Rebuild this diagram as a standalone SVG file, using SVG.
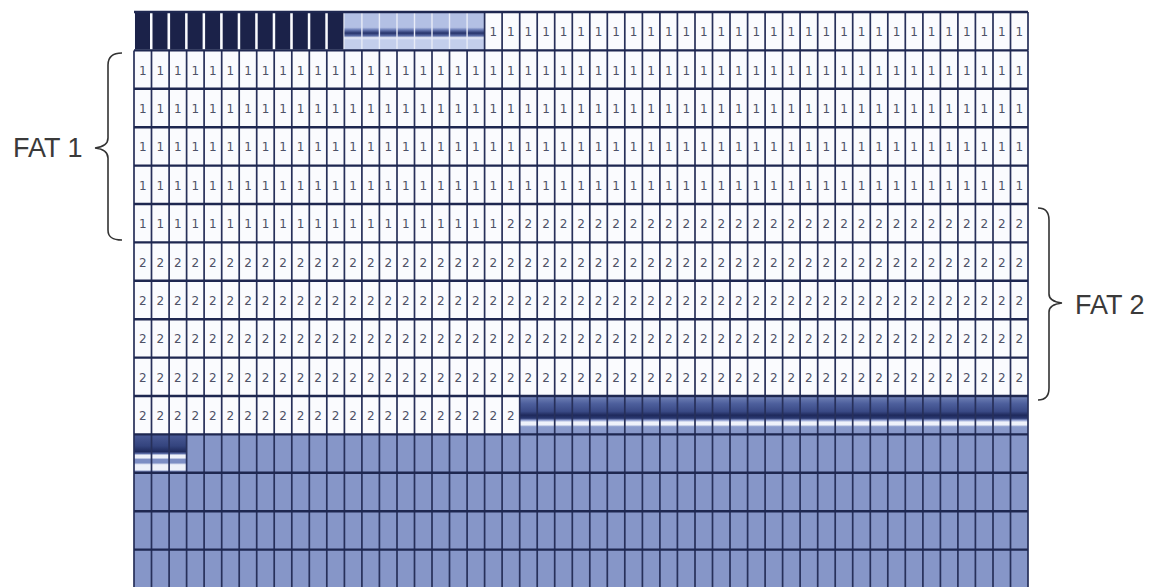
<svg xmlns="http://www.w3.org/2000/svg" width="1157" height="587" viewBox="0 0 1157 587">
<defs>
<style>
.cell{fill:#fafbfe}
.blue{fill:#8696c8}
.dark{fill:#1b2249}
.vl{stroke:#27305a;stroke-width:1.7;fill:none}
.hl{stroke:#1e2750;stroke-width:2.4;fill:none}
.dg{font-family:"DejaVu Sans",sans-serif;font-size:12px;fill:#4d5166;text-anchor:middle}
.brace{stroke:#333;stroke-width:1.6;fill:none}
.lbl{font-family:"Liberation Sans",Arial,sans-serif;font-size:27px;fill:#3a3a3a}
</style>
<linearGradient id="band0" x1="0" y1="0" x2="0" y2="1">
<stop offset="0" stop-color="#b3c0e4"/>
<stop offset="0.4" stop-color="#b3c0e4"/>
<stop offset="0.46" stop-color="#6f80b8"/>
<stop offset="0.55" stop-color="#26336a"/>
<stop offset="0.62" stop-color="#5d6fa8"/>
<stop offset="0.67" stop-color="#e6ebf7"/>
<stop offset="0.73" stop-color="#c3ceec"/>
<stop offset="1" stop-color="#c3ceec"/>
</linearGradient>
<linearGradient id="band10" x1="0" y1="0" x2="0" y2="1">
<stop offset="0" stop-color="#7f90c5"/>
<stop offset="0.08" stop-color="#6475ad"/>
<stop offset="0.2" stop-color="#4d5f9c"/>
<stop offset="0.4" stop-color="#3a4a86"/>
<stop offset="0.5" stop-color="#1f2a5c"/>
<stop offset="0.58" stop-color="#2a3870"/>
<stop offset="0.63" stop-color="#8e9dd0"/>
<stop offset="0.68" stop-color="#f0f3fb"/>
<stop offset="0.75" stop-color="#eef1fa"/>
<stop offset="0.8" stop-color="#8a9bcc"/>
<stop offset="1" stop-color="#8696c8"/>
</linearGradient>
<linearGradient id="band11" x1="0" y1="0" x2="0" y2="1">
<stop offset="0" stop-color="#4a5a96"/>
<stop offset="0.3" stop-color="#34447e"/>
<stop offset="0.45" stop-color="#1f2a5c"/>
<stop offset="0.5" stop-color="#5a6ba6"/>
<stop offset="0.54" stop-color="#eef1fa"/>
<stop offset="0.61" stop-color="#eef1fa"/>
<stop offset="0.65" stop-color="#7d8ec4"/>
<stop offset="0.74" stop-color="#7d8ec4"/>
<stop offset="0.79" stop-color="#eef1fa"/>
<stop offset="0.92" stop-color="#eef1fa"/>
<stop offset="0.96" stop-color="#8696c8"/>
</linearGradient>
</defs>
<rect width="1157" height="587" fill="#ffffff"/>
<g id="table">
<rect class="cell" x="134" y="12" width="894" height="422.4"/>
<rect class="blue" x="519.7" y="396" width="508.3" height="38.4"/>
<rect class="blue" x="134" y="434.4" width="894" height="152.6"/>
<rect x="519.7" y="396" width="508.3" height="38.4" fill="url(#band10)"/>
<rect x="134" y="434.4" width="52.6" height="38.4" fill="url(#band11)"/>
<g id="row0-used">
<rect class="dark" x="135" y="12" width="15" height="37.5"/>
<rect class="dark" x="152.5" y="12" width="15" height="37.5"/>
<rect class="dark" x="170.1" y="12" width="15" height="37.5"/>
<rect class="dark" x="187.6" y="12" width="15" height="37.5"/>
<rect class="dark" x="205.1" y="12" width="15" height="37.5"/>
<rect class="dark" x="222.7" y="12" width="15" height="37.5"/>
<rect class="dark" x="240.2" y="12" width="15" height="37.5"/>
<rect class="dark" x="257.7" y="12" width="15" height="37.5"/>
<rect class="dark" x="275.2" y="12" width="15" height="37.5"/>
<rect class="dark" x="292.8" y="12" width="15" height="37.5"/>
<rect class="dark" x="310.3" y="12" width="15" height="37.5"/>
<rect class="dark" x="327.8" y="12" width="15.6" height="37.5"/>
<rect x="344.4" y="12" width="140.2" height="38.4" fill="url(#band0)"/>
<path d="M361.9 13V49M379.4 13V49M397 13V49M414.5 13V49M432 13V49M449.5 13V49M467.1 13V49" stroke="#e8ecf7" stroke-width="1.4" fill="none"/>
</g>
<path class="vl" d="M484.6 12V50.4M502.1 12V50.4M519.7 12V50.4M537.2 12V50.4M554.7 12V50.4M572.3 12V50.4M589.8 12V50.4M607.3 12V50.4M624.8 12V50.4M642.4 12V50.4M659.9 12V50.4M677.4 12V50.4M695 12V50.4M712.5 12V50.4M730 12V50.4M747.6 12V50.4M765.1 12V50.4M782.6 12V50.4M800.1 12V50.4M817.7 12V50.4M835.2 12V50.4M852.7 12V50.4M870.3 12V50.4M887.8 12V50.4M905.3 12V50.4M922.9 12V50.4M940.4 12V50.4M957.9 12V50.4M975.4 12V50.4M993 12V50.4M1010.5 12V50.4M1028 12V50.4"/>
<path class="vl" d="M134 50.4V587M151.5 50.4V587M169.1 50.4V587M186.6 50.4V587M204.1 50.4V587M221.7 50.4V587M239.2 50.4V587M256.7 50.4V587M274.2 50.4V587M291.8 50.4V587M309.3 50.4V587M326.8 50.4V587M344.4 50.4V587M361.9 50.4V587M379.4 50.4V587M397 50.4V587M414.5 50.4V587M432 50.4V587M449.5 50.4V587M467.1 50.4V587M484.6 50.4V587M502.1 50.4V587M519.7 50.4V587M537.2 50.4V587M554.7 50.4V587M572.3 50.4V587M589.8 50.4V587M607.3 50.4V587M624.8 50.4V587M642.4 50.4V587M659.9 50.4V587M677.4 50.4V587M695 50.4V587M712.5 50.4V587M730 50.4V587M747.6 50.4V587M765.1 50.4V587M782.6 50.4V587M800.1 50.4V587M817.7 50.4V587M835.2 50.4V587M852.7 50.4V587M870.3 50.4V587M887.8 50.4V587M905.3 50.4V587M922.9 50.4V587M940.4 50.4V587M957.9 50.4V587M975.4 50.4V587M993 50.4V587M1010.5 50.4V587M1028 50.4V587"/>
<path class="hl" d="M134 12H1028M134 50.4H1028M134 88.8H1028M134 127.2H1028M134 165.6H1028M134 204H1028M134 242.4H1028M134 280.8H1028M134 319.2H1028M134 357.6H1028M134 396H1028M134 434.4H1028M134 472.8H1028M134 511.2H1028M134 549.6H1028"/>
<g id="digits">
<text class="dg" x="493.4 510.9 528.4 546 563.5 581 598.5 616.1 633.6 651.1 668.7 686.2 703.7 721.3 738.8 756.3 773.8 791.4 808.9 826.4 844 861.5 879 896.6 914.1 931.6 949.1 966.7 984.2 1001.7 1019.3" y="36.2">1111111111111111111111111111111</text>
<text class="dg" x="142.8 160.3 177.8 195.4 212.9 230.4 248 265.5 283 300.5 318.1 335.6 353.1 370.7 388.2 405.7 423.3 440.8 458.3 475.8 493.4 510.9 528.4 546 563.5 581 598.5 616.1 633.6 651.1 668.7 686.2 703.7 721.3 738.8 756.3 773.8 791.4 808.9 826.4 844 861.5 879 896.6 914.1 931.6 949.1 966.7 984.2 1001.7 1019.3" y="74.6">111111111111111111111111111111111111111111111111111</text>
<text class="dg" x="142.8 160.3 177.8 195.4 212.9 230.4 248 265.5 283 300.5 318.1 335.6 353.1 370.7 388.2 405.7 423.3 440.8 458.3 475.8 493.4 510.9 528.4 546 563.5 581 598.5 616.1 633.6 651.1 668.7 686.2 703.7 721.3 738.8 756.3 773.8 791.4 808.9 826.4 844 861.5 879 896.6 914.1 931.6 949.1 966.7 984.2 1001.7 1019.3" y="113">111111111111111111111111111111111111111111111111111</text>
<text class="dg" x="142.8 160.3 177.8 195.4 212.9 230.4 248 265.5 283 300.5 318.1 335.6 353.1 370.7 388.2 405.7 423.3 440.8 458.3 475.8 493.4 510.9 528.4 546 563.5 581 598.5 616.1 633.6 651.1 668.7 686.2 703.7 721.3 738.8 756.3 773.8 791.4 808.9 826.4 844 861.5 879 896.6 914.1 931.6 949.1 966.7 984.2 1001.7 1019.3" y="151.4">111111111111111111111111111111111111111111111111111</text>
<text class="dg" x="142.8 160.3 177.8 195.4 212.9 230.4 248 265.5 283 300.5 318.1 335.6 353.1 370.7 388.2 405.7 423.3 440.8 458.3 475.8 493.4 510.9 528.4 546 563.5 581 598.5 616.1 633.6 651.1 668.7 686.2 703.7 721.3 738.8 756.3 773.8 791.4 808.9 826.4 844 861.5 879 896.6 914.1 931.6 949.1 966.7 984.2 1001.7 1019.3" y="189.8">111111111111111111111111111111111111111111111111111</text>
<text class="dg" x="142.8 160.3 177.8 195.4 212.9 230.4 248 265.5 283 300.5 318.1 335.6 353.1 370.7 388.2 405.7 423.3 440.8 458.3 475.8 493.4 510.9 528.4 546 563.5 581 598.5 616.1 633.6 651.1 668.7 686.2 703.7 721.3 738.8 756.3 773.8 791.4 808.9 826.4 844 861.5 879 896.6 914.1 931.6 949.1 966.7 984.2 1001.7 1019.3" y="228.2">111111111111111111111222222222222222222222222222222</text>
<text class="dg" x="142.8 160.3 177.8 195.4 212.9 230.4 248 265.5 283 300.5 318.1 335.6 353.1 370.7 388.2 405.7 423.3 440.8 458.3 475.8 493.4 510.9 528.4 546 563.5 581 598.5 616.1 633.6 651.1 668.7 686.2 703.7 721.3 738.8 756.3 773.8 791.4 808.9 826.4 844 861.5 879 896.6 914.1 931.6 949.1 966.7 984.2 1001.7 1019.3" y="266.6">222222222222222222222222222222222222222222222222222</text>
<text class="dg" x="142.8 160.3 177.8 195.4 212.9 230.4 248 265.5 283 300.5 318.1 335.6 353.1 370.7 388.2 405.7 423.3 440.8 458.3 475.8 493.4 510.9 528.4 546 563.5 581 598.5 616.1 633.6 651.1 668.7 686.2 703.7 721.3 738.8 756.3 773.8 791.4 808.9 826.4 844 861.5 879 896.6 914.1 931.6 949.1 966.7 984.2 1001.7 1019.3" y="305">222222222222222222222222222222222222222222222222222</text>
<text class="dg" x="142.8 160.3 177.8 195.4 212.9 230.4 248 265.5 283 300.5 318.1 335.6 353.1 370.7 388.2 405.7 423.3 440.8 458.3 475.8 493.4 510.9 528.4 546 563.5 581 598.5 616.1 633.6 651.1 668.7 686.2 703.7 721.3 738.8 756.3 773.8 791.4 808.9 826.4 844 861.5 879 896.6 914.1 931.6 949.1 966.7 984.2 1001.7 1019.3" y="343.4">222222222222222222222222222222222222222222222222222</text>
<text class="dg" x="142.8 160.3 177.8 195.4 212.9 230.4 248 265.5 283 300.5 318.1 335.6 353.1 370.7 388.2 405.7 423.3 440.8 458.3 475.8 493.4 510.9 528.4 546 563.5 581 598.5 616.1 633.6 651.1 668.7 686.2 703.7 721.3 738.8 756.3 773.8 791.4 808.9 826.4 844 861.5 879 896.6 914.1 931.6 949.1 966.7 984.2 1001.7 1019.3" y="381.8">222222222222222222222222222222222222222222222222222</text>
<text class="dg" x="142.8 160.3 177.8 195.4 212.9 230.4 248 265.5 283 300.5 318.1 335.6 353.1 370.7 388.2 405.7 423.3 440.8 458.3 475.8 493.4 510.9" y="420.2">2222222222222222222222</text>
</g>
</g>
<g id="fat1">
<path class="brace" d="M122 53C112 53 108 57 108 65L108 138C108 144 104 147 95 148C104 149 108 152 108 158L108 230C108 237 112 240 122 240"/>
<text class="lbl" x="13" y="157">FAT 1</text>
</g>
<g id="fat2">
<path class="brace" d="M1038 208C1045 208 1049 212 1049 220L1049 294C1049 299 1053 302 1062 303C1053 304 1049 307 1049 312L1049 388C1049 396 1045 400 1038 400"/>
<text class="lbl" x="1075" y="314">FAT 2</text>
</g>
</svg>
